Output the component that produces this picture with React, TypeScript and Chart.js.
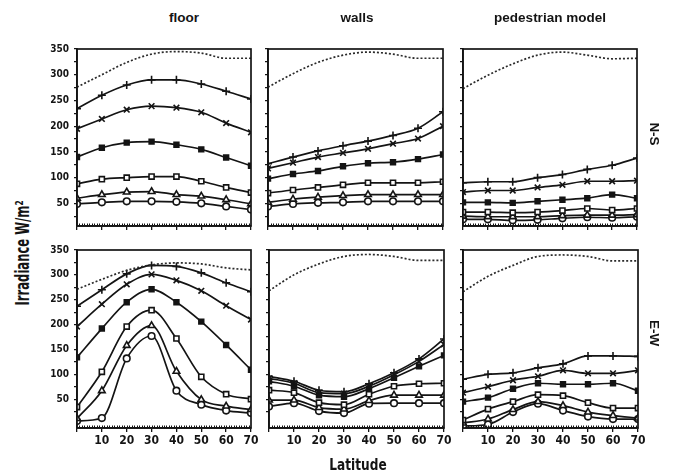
import React, { useEffect, useRef } from 'react';
import { Chart, registerables } from 'chart.js';

Chart.register(...registerables);

// ---------- data ----------
const latitudes = [0, 10, 20, 30, 40, 50, 60, 70];
const xTickValues = [0, 10, 20, 30, 40, 50, 60, 70];
const yTickValues = [25, 50, 75, 100, 125, 150, 175, 200, 225, 250, 275, 300, 325, 350];
const yLabelValues = [50, 100, 150, 200, 250, 300, 350];
const columnTitles = ['floor', 'walls', 'pedestrian model'];
const rowLabels = ['N-S', 'E-W'];
const xAxisTitle = 'Latitude';
const yAxisTitle = 'Irradiance  W/m²';

// floor, N-S
const floorNS_dotted = [276, 300, 324, 340, 345, 342, 332, 332];
const floorNS_plus = [234, 260, 280, 290, 290, 282, 268, 253];
const floorNS_cross = [195, 214, 232, 239, 236, 227, 206, 188];
const floorNS_filled = [140, 158, 168, 170, 164, 155, 139, 123];
const floorNS_square = [88, 97, 100, 102, 102, 93, 81, 71];
const floorNS_triangle = [60, 67, 72, 73, 67, 64, 57, 49];
const floorNS_circle = [49, 52, 54, 54, 53, 50, 44, 38];

// walls, N-S
const wallsNS_dotted = [276, 302, 324, 338, 344, 340, 332, 332];
const wallsNS_plus = [127, 140, 152, 162, 171, 182, 196, 228];
const wallsNS_cross = [118, 129, 140, 148, 156, 166, 176, 200];
const wallsNS_filled = [98, 107, 113, 122, 128, 130, 136, 145];
const wallsNS_square = [70, 76, 81, 86, 90, 90, 90, 92];
const wallsNS_triangle = [52, 58, 62, 65, 67, 67, 67, 67];
const wallsNS_circle = [44, 49, 51, 52, 54, 54, 54, 54];

// pedestrian model, N-S
const pedNS_dotted = [273, 299, 321, 338, 344, 338, 331, 332];
const pedNS_plus = [90, 92, 92, 100, 106, 116, 124, 138];
const pedNS_cross = [72, 75, 75, 81, 86, 93, 93, 94];
const pedNS_filled = [52, 52, 51, 54, 57, 60, 67, 60];
const pedNS_square = [33, 33, 32, 33, 36, 40, 37, 40];
const pedNS_triangle = [25, 24, 24, 24, 26, 27, 27, 28];
const pedNS_circle = [19, 19, 17, 18, 21, 23, 22, 24];

// floor, E-W
const floorEW_dotted = [271, 291, 309, 320, 324, 322, 314, 310];
const floorEW_plus = [237, 270, 302, 319, 317, 304, 284, 266];
const floorEW_cross = [196, 241, 281, 301, 289, 268, 238, 210];
const floorEW_filled = [134, 192, 245, 271, 245, 206, 159, 109];
const floorEW_square = [34, 105, 196, 229, 172, 95, 60, 50];
const floorEW_triangle = [11, 67, 158, 198, 106, 49, 36, 29];
const floorEW_circle = [6, 12, 132, 177, 67, 39, 27, 22];

// walls, E-W
const wallsEW_dotted = [268, 300, 322, 337, 341, 337, 329, 329];
const wallsEW_plus = [96, 86, 68, 65, 81, 103, 131, 171];
const wallsEW_cross = [92, 82, 63, 61, 76, 99, 126, 160];
const wallsEW_filled = [86, 76, 58, 55, 71, 93, 116, 138];
const wallsEW_square = [68, 63, 43, 39, 60, 76, 81, 82];
const wallsEW_triangle = [48, 48, 33, 30, 47, 58, 58, 58];
const wallsEW_circle = [35, 42, 26, 22, 41, 42, 42, 42];

// pedestrian model, E-W
const pedEW_dotted = [266, 297, 319, 337, 340, 337, 328, 328];
const pedEW_plus = [90, 100, 103, 113, 121, 137, 137, 136];
const pedEW_cross = [63, 75, 88, 96, 108, 102, 102, 108];
const pedEW_filled = [45, 53, 71, 82, 80, 80, 82, 67];
const pedEW_square = [8, 30, 45, 59, 57, 43, 32, 32];
const pedEW_triangle = [2, 10, 29, 45, 37, 24, 17, 12];
const pedEW_circle = [-4, -1, 24, 41, 27, 15, 10, 10];

// ---------- styling ----------
const INK = '#141414';
const NARROW = "'Liberation Sans Narrow', 'DejaVu Sans Condensed', 'Roboto Condensed', 'Arial Narrow', sans-serif";
const PL = 40, PT = 8, PR = 12, PB = 26;

type Marker = { style: any; radius: number; fill: string };
const markers: Marker[] = [
  { style: 'cross', radius: 4, fill: INK },
  { style: 'crossRot', radius: 4, fill: INK },
  { style: 'rect', radius: 3.4, fill: INK },
  { style: 'rect', radius: 3.6, fill: '#ffffff' },
  { style: 'triangle', radius: 3.8, fill: '#ffffff' },
  { style: 'circle', radius: 3.3, fill: '#ffffff' },
];

function toPoints(values: number[]) {
  return values.map((v, i) => ({ x: latitudes[i], y: v }));
}

const framePlugin = {
  id: 'frame',
  afterDraw(chart: any) {
    const { ctx, chartArea, scales } = chart;
    const { left, top, right, bottom } = chartArea;
    ctx.save();
    ctx.strokeStyle = INK;
    ctx.lineWidth = 1.7;
    ctx.strokeRect(left, top, right - left, bottom - top);
    ctx.lineWidth = 1;
    ctx.beginPath();
    for (let v = 1; v < 70; v += 1) {
      const px = Math.round(scales.x.getPixelForValue(v)) + 0.5;
      ctx.moveTo(px, bottom);
      ctx.lineTo(px, bottom - 2.5);
    }
    ctx.stroke();
    ctx.restore();
  },
};

type PanelProps = {
  L: number; T: number; R: number; B: number;
  yMin: number; yMax: number;
  showY: boolean; showX: boolean;
  dotted: number[]; series: number[][];
};

function Panel(p: PanelProps) {
  const ref = useRef<HTMLCanvasElement>(null);
  const width = p.R - p.L + PL + PR;
  const height = p.B - p.T + PT + PB;
  useEffect(() => {
    const datasets: any[] = [
      {
        data: toPoints(p.dotted),
        borderColor: '#2a2a2a',
        borderWidth: 1.7,
        borderDash: [2, 2],
        pointRadius: 0,
        cubicInterpolationMode: 'monotone',
        fill: false,
      },
      ...p.series.map((vals, i) => ({
        data: toPoints(vals),
        borderColor: INK,
        borderWidth: 1.7,
        pointStyle: markers[i].style,
        pointRadius: markers[i].radius,
        pointBackgroundColor: markers[i].fill,
        pointBorderColor: INK,
        pointBorderWidth: 1.6,
        cubicInterpolationMode: 'monotone',
        fill: false,
      })),
    ];
    const chart = new Chart(ref.current as HTMLCanvasElement, {
      type: 'line',
      data: { datasets },
      options: {
        animation: false,
        responsive: false,
        maintainAspectRatio: false,
        layout: { padding: { top: PT, right: PR, left: 0, bottom: 0 } },
        plugins: { legend: { display: false }, tooltip: { enabled: false } },
        scales: {
          x: {
            type: 'linear',
            min: 0,
            max: 70,
            afterBuildTicks: (s: any) => { s.ticks = xTickValues.map((v) => ({ value: v })); },
            afterFit: (s: any) => { s.height = PB; },
            ticks: {
              autoSkip: false,
              maxRotation: 0,
              padding: 2,
              color: INK,
              font: { family: NARROW, size: 12, weight: 'bold' },
              callback: (v: any) => (p.showX && v !== 0 ? String(v) : ''),
            },
            grid: { drawOnChartArea: false, tickLength: 4, color: INK, lineWidth: 1.3 },
            border: { color: INK, width: 1.7 },
          },
          y: {
            type: 'linear',
            min: p.yMin,
            max: p.yMax,
            afterBuildTicks: (s: any) => { s.ticks = yTickValues.map((v) => ({ value: v })); },
            afterFit: (s: any) => { s.width = PL; },
            ticks: {
              autoSkip: false,
              padding: 5,
              color: INK,
              font: { family: NARROW, size: 10, weight: 'bold' },
              callback: (v: any) => (p.showY && yLabelValues.includes(v) ? String(v) : ''),
            },
            grid: { drawOnChartArea: false, tickLength: 3, color: INK, lineWidth: 1.3 },
            border: { color: INK, width: 1.7 },
          },
        },
      } as any,
      plugins: [framePlugin],
    });
    return () => chart.destroy();
  }, []);
  return (
    <canvas
      ref={ref}
      width={width}
      height={height}
      style={{ position: 'absolute', left: p.L - PL, top: p.T - PT, width, height }}
    />
  );
}

function Label(props: { x: number; y: number; text: React.ReactNode; transform?: string; style?: React.CSSProperties }) {
  return (
    <div
      style={{
        position: 'absolute',
        left: props.x,
        top: props.y,
        transform: `translate(-50%, -50%) ${props.transform || ''}`,
        whiteSpace: 'nowrap',
        color: INK,
        lineHeight: 1,
        ...props.style,
      }}
    >
      {props.text}
    </div>
  );
}

export default function App() {
  const titleStyle: React.CSSProperties = { fontFamily: "'Liberation Sans', Arial, sans-serif", fontWeight: 'bold', fontSize: 13.5 };
  return (
    <div style={{ position: 'fixed', left: 0, top: 0, width: 673, height: 476, background: '#ffffff', overflow: 'hidden' }}>
      <Panel L={77} T={46} R={251} B={226} yMin={6} yMax={350} showY showX={false}
        dotted={floorNS_dotted}
        series={[floorNS_plus, floorNS_cross, floorNS_filled, floorNS_square, floorNS_triangle, floorNS_circle]} />
      <Panel L={268} T={46} R={443} B={226} yMin={6} yMax={350} showY={false} showX={false}
        dotted={wallsNS_dotted}
        series={[wallsNS_plus, wallsNS_cross, wallsNS_filled, wallsNS_square, wallsNS_triangle, wallsNS_circle]} />
      <Panel L={463} T={46} R={637} B={226} yMin={6} yMax={350} showY={false} showX={false}
        dotted={pedNS_dotted}
        series={[pedNS_plus, pedNS_cross, pedNS_filled, pedNS_square, pedNS_triangle, pedNS_circle]} />
      <Panel L={77} T={247} R={251} B={428} yMin={-8} yMax={350} showY showX
        dotted={floorEW_dotted}
        series={[floorEW_plus, floorEW_cross, floorEW_filled, floorEW_square, floorEW_triangle, floorEW_circle]} />
      <Panel L={269} T={247} R={444} B={428} yMin={-8} yMax={350} showY={false} showX
        dotted={wallsEW_dotted}
        series={[wallsEW_plus, wallsEW_cross, wallsEW_filled, wallsEW_square, wallsEW_triangle, wallsEW_circle]} />
      <Panel L={463} T={247} R={638} B={428} yMin={-8} yMax={350} showY={false} showX
        dotted={pedEW_dotted}
        series={[pedEW_plus, pedEW_cross, pedEW_filled, pedEW_square, pedEW_triangle, pedEW_circle]} />

      <Label x={184} y={18} text={columnTitles[0]} style={titleStyle} />
      <Label x={357} y={18} text={columnTitles[1]} style={titleStyle} />
      <Label x={550} y={18} text={columnTitles[2]} style={titleStyle} />
      <Label x={654} y={134} transform="rotate(90deg)" text={rowLabels[0]} style={titleStyle} />
      <Label x={654} y={333} transform="rotate(90deg)" text={rowLabels[1]} style={titleStyle} />
      <Label x={358} y={465} transform="scale(0.9, 1.05)" text={xAxisTitle} style={{ fontFamily: NARROW, fontSize: 15, fontWeight: 'bold' }} />
      <Label x={22} y={253} transform="rotate(-90deg) scale(0.68, 1)" text={yAxisTitle} style={{ fontFamily: NARROW, fontSize: 19, fontWeight: 'bold' }} />
    </div>
  );
}
